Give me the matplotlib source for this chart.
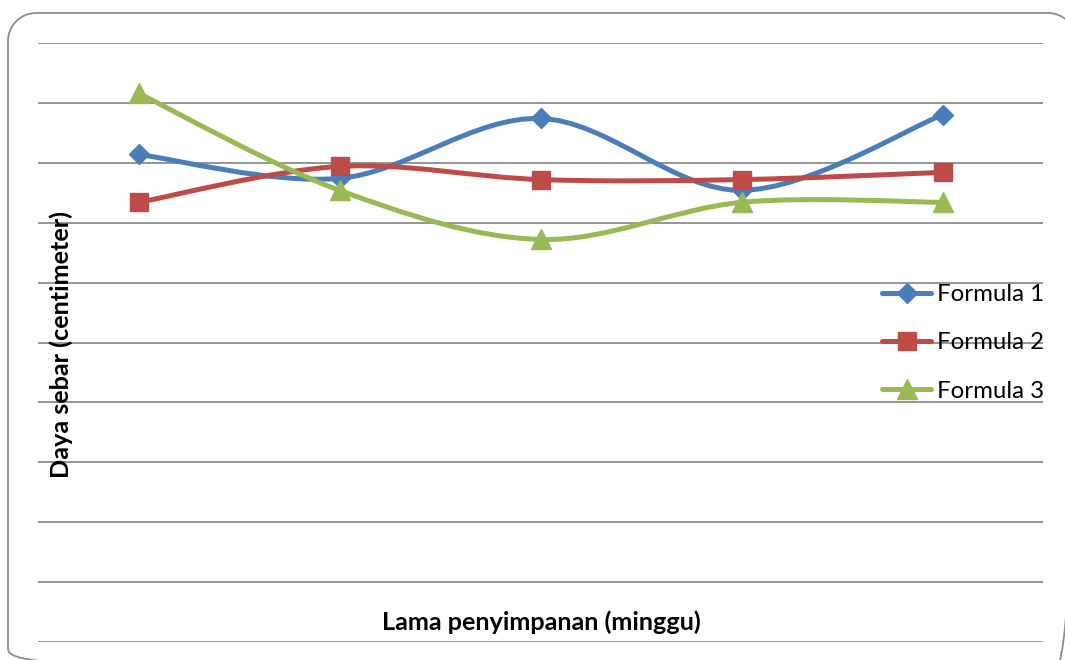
import matplotlib
matplotlib.use("Agg")
import matplotlib.pyplot as plt
from matplotlib.path import Path
from matplotlib.patches import PathPatch
from matplotlib.lines import Line2D
from matplotlib.transforms import Affine2D

# Storage time (weeks) and spreadability (cm) for each formula
weeks = [0, 1, 2, 3, 4]
formula_1 = [4.07, 3.87, 4.37, 3.77, 4.40]
formula_2 = [3.67, 3.97, 3.86, 3.86, 3.92]
formula_3 = [4.58, 3.77, 3.36, 3.67, 3.67]
series_names = ["Formula 1", "Formula 2", "Formula 3"]

colors = ["#4A7EBB", "#BE4B48", "#98B954"]
markers = ["D", "s", "^"]
marker_sizes = [10.5, 13.5, 14.5]

plt.rcParams["font.family"] = ["Lato", "DejaVu Sans"]

W, H = 1065, 660
fig = plt.figure(figsize=(W / 100, H / 100), dpi=100)


def rounded_rect(x0, y0, x1, y1, r):
    """Closed rounded-rectangle path (pixel units, y downward)."""
    k = 0.5523 * r
    verts = [
        (x0 + r, y0), (x1 - r, y0),
        (x1 - r + k, y0), (x1, y0 + r - k), (x1, y0 + r),
        (x1, y1 - r),
        (x1, y1 - r + k), (x1 - r + k, y1), (x1 - r, y1),
        (x0 + r, y1),
        (x0 + r - k, y1), (x0, y1 - r + k), (x0, y1 - r),
        (x0, y0 + r),
        (x0, y0 + r - k), (x0 + r - k, y0), (x0 + r, y0),
    ]
    codes = ([Path.MOVETO, Path.LINETO] + [Path.CURVE4] * 3 + [Path.LINETO]
             + [Path.CURVE4] * 3 + [Path.LINETO] + [Path.CURVE4] * 3
             + [Path.LINETO] + [Path.CURVE4] * 3)
    return Path(verts, codes)


# chart-area frame: pixel layout mapped onto figure fractions
px = Affine2D().scale(1 / W, -1 / H).translate(0, 1) + fig.transFigure
fig.add_artist(PathPatch(rounded_rect(8, 13, 1076, 676, 28), transform=px,
                         facecolor="none", edgecolor="#8C8C8C", linewidth=1.3))

ax = fig.add_axes([38 / W, (H - 642) / H, (1043 - 38) / W, (642 - 43) / H])
ax.patch.set_alpha(0)


def smooth_path(xs, ys):
    """Cubic Bezier path through the points (Catmull-Rom style smoothing)."""
    pts = list(zip(xs, ys))
    n = len(pts)
    verts = [pts[0]]
    codes = [Path.MOVETO]
    for i in range(n - 1):
        p0 = pts[i - 1] if i > 0 else pts[i]
        p1 = pts[i]
        p2 = pts[i + 1]
        p3 = pts[i + 2] if i + 2 < n else pts[i + 1]
        c1 = (p1[0] + (p2[0] - p0[0]) / 6, p1[1] + (p2[1] - p0[1]) / 6)
        c2 = (p2[0] - (p3[0] - p1[0]) / 6, p2[1] - (p3[1] - p1[1]) / 6)
        verts += [c1, c2, p2]
        codes += [Path.CURVE4] * 3
    return Path(verts, codes)


series = [formula_1, formula_2, formula_3]
handles = []
for vals, name, c, m, ms in zip(series, series_names, colors, markers, marker_sizes):
    ax.add_patch(PathPatch(smooth_path(weeks, vals), facecolor="none",
                           edgecolor=c, linewidth=3.6, capstyle="round",
                           joinstyle="round", zorder=3))
    ax.plot(weeks, vals, linestyle="none", marker=m, markersize=ms,
            color=c, markeredgecolor=c, zorder=4)
    handles.append(Line2D([0], [0], color=c, linewidth=3.6, marker=m,
                          markersize=ms, solid_capstyle="round", label=name))

ax.set_xlim(-0.5, 4.5)
ax.set_ylim(0, 5)
ax.set_yticks([i * 0.5 for i in range(11)])
ax.set_xticks(weeks)
ax.tick_params(left=False, bottom=False, labelleft=False, labelbottom=False)
ax.yaxis.grid(True, color="#8C8C8C", linewidth=1.3)
ax.set_axisbelow(True)
for s in ax.spines.values():
    s.set_visible(False)

fig.text(541 / W, (H - 622) / H, "Lama penyimpanan (minggu)", ha="center",
         va="center", fontsize=18.2, fontweight="bold")
fig.text(61 / W, (H - 344) / H, "Daya sebar (centimeter)", ha="center",
         va="center", rotation=90, fontsize=18.2, fontweight="bold")

leg = ax.legend(handles=handles, loc="center left",
                bbox_to_anchor=(870 / W, (H - 343) / H),
                bbox_transform=fig.transFigure, frameon=False, fontsize=17.3,
                handlelength=2.05, handletextpad=0.25, labelspacing=1.14,
                borderpad=0)

fig.savefig("out.png", dpi=100, facecolor="white")
